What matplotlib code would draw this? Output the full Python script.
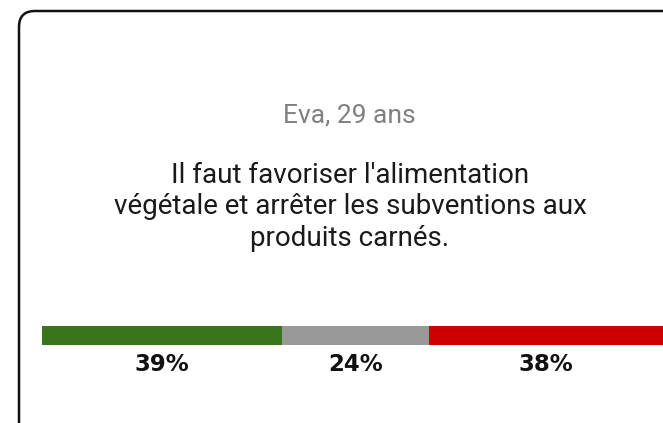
import matplotlib
matplotlib.use('Agg')
import matplotlib.pyplot as plt
from matplotlib.patches import FancyBboxPatch

# data
author = 'Eva, 29 ans'
quote = "Il faut favoriser l'alimentation\nvégétale et arrêter les subventions aux\nproduits carnés."
shares = [39, 24, 38]
share_labels = ['39%', '24%', '38%']
colors = ['#38761d', '#999999', '#cc0000']

W, H = 663, 423
fig = plt.figure(figsize=(W / 100, H / 100), dpi=100)
fig.patch.set_facecolor('white')

# background axes in pixel coords for the card and text
bg = fig.add_axes([0, 0, 1, 1])
bg.set_xlim(0, W)
bg.set_ylim(H, 0)
bg.axis('off')

card = FancyBboxPatch((19, 11), 720, 440, boxstyle='round,pad=0,rounding_size=16',
                      facecolor='white', edgecolor='#111111', linewidth=1.8)
bg.add_patch(card)

bg.text(349, 116, author, ha='center', va='center', fontsize=19,
        family='Roboto', color='#808080')
bg.text(350, 207, quote, ha='center', va='center', fontsize=20,
        family='Roboto', color='#1a1a1a', linespacing=1.2, multialignment='center')

# stacked horizontal bar
x0, x1 = 42, 663
y_top, y_bot = 326, 345
ax = fig.add_axes([x0 / W, 1 - y_bot / H, (x1 - x0) / W, (y_bot - y_top) / H])
left = 0
for v, c, lab in zip(shares, colors, share_labels):
    ax.barh(0, v, left=left, color=c, height=1, edgecolor='none')
    ax.text(left + v / 2, -1.5, lab, ha='center', va='center', fontsize=16.5,
            fontweight='bold', family='DejaVu Sans', color='#111111', clip_on=False)
    left += v
ax.set_xlim(0, sum(shares))
ax.set_ylim(-0.5, 0.5)
ax.axis('off')

fig.savefig('out.png', dpi=100)
